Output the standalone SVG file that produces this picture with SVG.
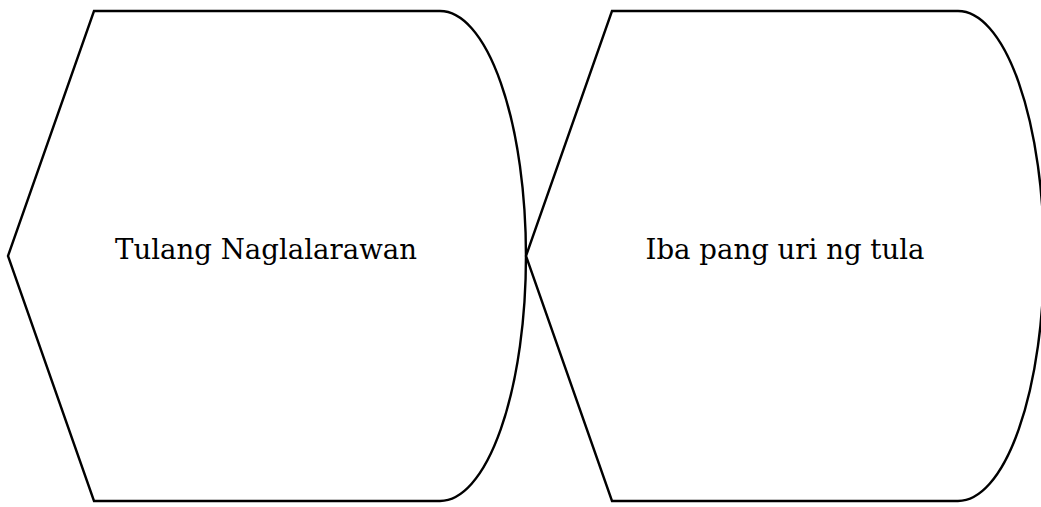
<svg xmlns="http://www.w3.org/2000/svg" width="1041" height="507" viewBox="0 0 1041 507">
<style>
.shape{fill:#fff;stroke:#000;stroke-width:2.4;stroke-linejoin:miter}
.lbl{font-family:"DejaVu Serif","Liberation Serif",serif;font-size:27.6px;fill:#000;text-anchor:middle}
</style>
<rect width="1041" height="507" fill="#fff"/>
<g id="node1">
<path class="shape" d="M8,256 L94,11 L440,11 A86,245 0 0 1 440,501 L94,501 Z"/>
<text class="lbl" x="266" y="259">Tulang Naglalarawan</text>
</g>
<g id="node2">
<path class="shape" d="M526,256 L612,11 L958,11 A86,245 0 0 1 958,501 L612,501 Z"/>
<text class="lbl" x="785" y="259">Iba pang uri ng tula</text>
</g>
<g id="connectors"></g>
</svg>
